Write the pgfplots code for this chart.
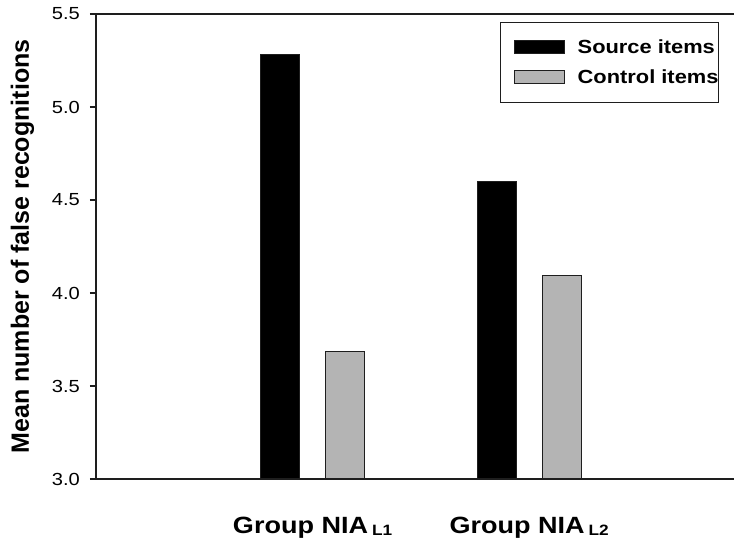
\documentclass[border=0pt]{standalone}
\usepackage{fontspec}
\setmainfont{Liberation Sans}
\newfontfamily\sfx[FakeStretch=1.15]{Liberation Sans}
\usepackage{pgfplots}
\pgfplotsset{compat=1.18}
\definecolor{ctrl}{RGB}{180,180,180}
\definecolor{axc}{RGB}{30,30,30}
\begin{document}
\begin{tikzpicture}
\useasboundingbox (-96pt,-61pt) rectangle (638pt,479pt);
\begin{axis}[
  at={(0,0)}, anchor=south west,
  scale only axis, width=638pt, height=465pt,
  xmin=0, xmax=2.946, ymin=3, ymax=5.5,
  axis x line=box, axis y line=left,
  every outer x axis line/.style={-},
  every outer y axis line/.style={-},
  axis line style={-, line width=1.6pt, color=axc},
  ybar=26pt, bar width=39pt,
  xtick={1,2},
  xticklabels={{Group NIA\,{\fontsize{15}{15}\selectfont\raisebox{-2pt}{L1}}},{Group NIA\,{\fontsize{15}{15}\selectfont\raisebox{-2pt}{L2}}}},
  xtick style={draw=none},
  xticklabel style={anchor=base, yshift=-49pt, font=\sfx\bfseries\fontsize{23.5}{24}\selectfont},
  ytick={3,3.5,4,4.5,5,5.5},
  ytick pos=left,
  ytick align=outside,
  major tick length=6pt,
  ytick style={draw=axc, line width=1.6pt},
  /pgf/number format/assume math mode=true,
  yticklabel style={/pgf/number format/.cd, fixed, fixed zerofill, precision=1, /tikz/.cd, font=\sfx\fontsize{17.5}{17.5}\selectfont, inner sep=0pt, anchor=east, xshift=-10pt},
  ylabel={Mean number of false recognitions},
  every axis y label/.style={at={(axis description cs:0,0.5)}, xshift=-67pt, anchor=base, rotate=90, font=\bfseries\fontsize{25}{25}\selectfont},
  legend style={at={(axis description cs:1,1)}, anchor=north east, xshift=-15pt, yshift=-8pt,
    draw=axc, line width=1pt, inner xsep=0pt, inner ysep=17pt,
    font=\sfx\bfseries\fontsize{19}{19}\selectfont,
    nodes={inner sep=0pt}, column sep=13pt, row sep=15pt, cells={anchor=west}},
  legend image code/.code={\path (-13pt,0pt); \draw[#1] (0pt,-6.5pt) rectangle (50pt,6.5pt);},
]
\addplot[fill=black, draw=axc, line width=1pt] coordinates {(1,5.28) (2,4.597)};
\addplot[fill=ctrl, draw=axc, line width=1pt] coordinates {(1,3.684) (2,4.095)};
\legend{Source items, Control items}
\end{axis}
\end{tikzpicture}
\end{document}
